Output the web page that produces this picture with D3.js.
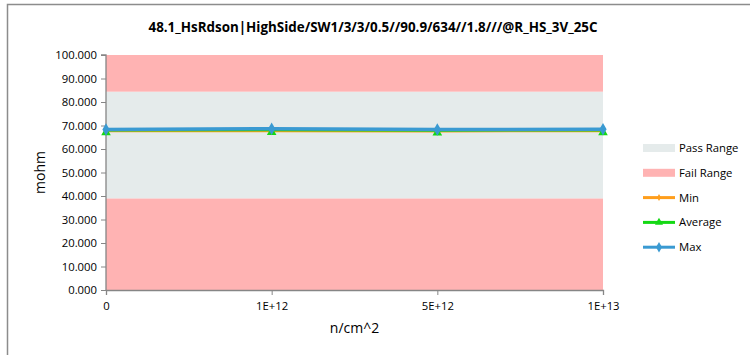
<!DOCTYPE html>
<html>
<head>
<meta charset="utf-8">
<script src="https://cdn.jsdelivr.net/npm/d3@7"></script>
<style>
  body { margin: 0; background: #fff; }
  text { font-family: "Open Sans", "Liberation Sans", sans-serif; fill: #000; }
</style>
</head>
<body>
<svg width="750" height="355"></svg>
<script>
const categories = ['0', '1E+12', '5E+12', '1E+13'];
const minValues = [67.6, 67.6, 67.5, 67.6];
const avgValues = [67.9, 68.0, 67.8, 67.9];
const maxValues = [68.3, 68.6, 68.3, 68.4];
const passRange = [39.0, 84.4];
const yTicks = [0, 10, 20, 30, 40, 50, 60, 70, 80, 90, 100];

const svg = d3.select('svg'),
    width = +svg.attr('width'),
    height = +svg.attr('height');

const margin = {left: 106, right: 147, top: 55, bottom: 65};

const x = d3.scalePoint().domain(categories).range([margin.left, width - margin.right]);
const y = d3.scaleLinear().domain([0, 100]).range([height - margin.bottom, margin.top]);

// chart frame (only left/top edges fall inside the window)
svg.append('rect')
    .attr('x', 7.5).attr('y', 4.5)
    .attr('width', 760).attr('height', 370)
    .attr('fill', 'none').attr('stroke', '#8c8c8c').attr('stroke-width', 1.5);

const x0 = margin.left, x1 = width - margin.right;

// fail / pass bands
const bands = [
    {lo: 0, hi: passRange[0], color: '#ffb3b3'},
    {lo: passRange[0], hi: passRange[1], color: '#e5ebeb'},
    {lo: passRange[1], hi: 100, color: '#ffb3b3'}
];
svg.append('g').selectAll('rect').data(bands).enter().append('rect')
    .attr('x', x0).attr('width', x1 - x0)
    .attr('y', d => y(d.hi)).attr('height', d => y(d.lo) - y(d.hi))
    .attr('fill', d => d.color);

// axes
const yAxis = svg.append('g')
    .attr('transform', `translate(${x0},0)`)
    .call(d3.axisLeft(y).tickValues(yTicks).tickFormat(d3.format('.3f')).tickSize(5).tickPadding(4));
const xAxis = svg.append('g')
    .attr('transform', `translate(0,${y(0)})`)
    .call(d3.axisBottom(x).tickSize(5).tickPadding(7));
[yAxis, xAxis].forEach(a => {
    a.select('.domain').attr('stroke', '#868686').attr('stroke-width', 1.3);
    a.selectAll('.tick line').attr('stroke', '#868686');
    a.selectAll('text').style('font-size', '11.3px').attr('fill', '#000');
});
yAxis.select('.domain').attr('d', `M-5,${y(100)}H0V${y(0)}`);

// series
const series = [
    {name: 'Min', values: minValues, color: '#ff9e1b', width: 2, marker: d3.symbolDiamond, msize: 20},
    {name: 'Average', values: avgValues, color: '#14d814', width: 2, marker: d3.symbolTriangle, msize: 40},
    {name: 'Max', values: maxValues, color: '#3a9ad2', width: 3.5, marker: d3.symbolDiamond, msize: 45}
];

const line = d3.line().x((d, i) => x(categories[i])).y(d => y(d));

series.forEach(s => {
    const g = svg.append('g');
    g.append('path').datum(s.values)
        .attr('d', line).attr('fill', 'none')
        .attr('stroke', s.color).attr('stroke-width', s.width);
    g.selectAll('path.m').data(s.values).enter().append('path')
        .attr('class', 'm')
        .attr('transform', (d, i) => `translate(${x(categories[i])},${y(d) + (s.name === 'Average' ? 2 : 0)})`)
        .attr('d', d3.symbol().type(s.marker).size(s.msize))
        .attr('fill', s.color);
});

// titles
svg.append('text')
    .attr('x', 373).attr('y', 32)
    .attr('text-anchor', 'middle')
    .style('font-size', '13.4px').style('font-weight', 'bold')
    .text('48.1_HsRdson|HighSide/SW1/3/3/0.5//90.9/634//1.8///@R_HS_3V_25C');

svg.append('text')
    .attr('transform', `translate(45,${(y(0) + y(100)) / 2}) rotate(-90)`)
    .attr('text-anchor', 'middle')
    .style('font-size', '14px')
    .text('mohm');

svg.append('text')
    .attr('x', (x0 + x1) / 2).attr('y', 333)
    .attr('text-anchor', 'middle')
    .style('font-size', '14px')
    .text('n/cm^2');

// legend
const legendItems = [
    {name: 'Pass Range', type: 'rect', color: '#e5ebeb'},
    {name: 'Fail Range', type: 'rect', color: '#ffb3b3'}
].concat(series.map(s => ({name: s.name, type: 'line', color: s.color, marker: s.marker, msize: s.msize})));

const legend = svg.append('g').attr('transform', 'translate(643,148)');
const li = legend.selectAll('g').data(legendItems).enter().append('g')
    .attr('transform', (d, i) => `translate(0,${i * 24.8})`);
li.filter(d => d.type === 'rect').append('rect')
    .attr('x', 0).attr('y', -4).attr('width', 32).attr('height', 8)
    .attr('fill', d => d.color);
li.filter(d => d.type === 'line').append('line')
    .attr('x1', 0).attr('x2', 32)
    .attr('stroke', d => d.color).attr('stroke-width', 3);
li.filter(d => d.type === 'line').append('path')
    .attr('transform', 'translate(16,0)')
    .attr('d', d => d3.symbol().type(d.marker).size(d.msize * 0.7)())
    .attr('fill', d => d.color);
li.append('text')
    .attr('x', 36).attr('dy', '0.35em')
    .style('font-size', '11.3px')
    .text(d => d.name);
</script>
</body>
</html>
